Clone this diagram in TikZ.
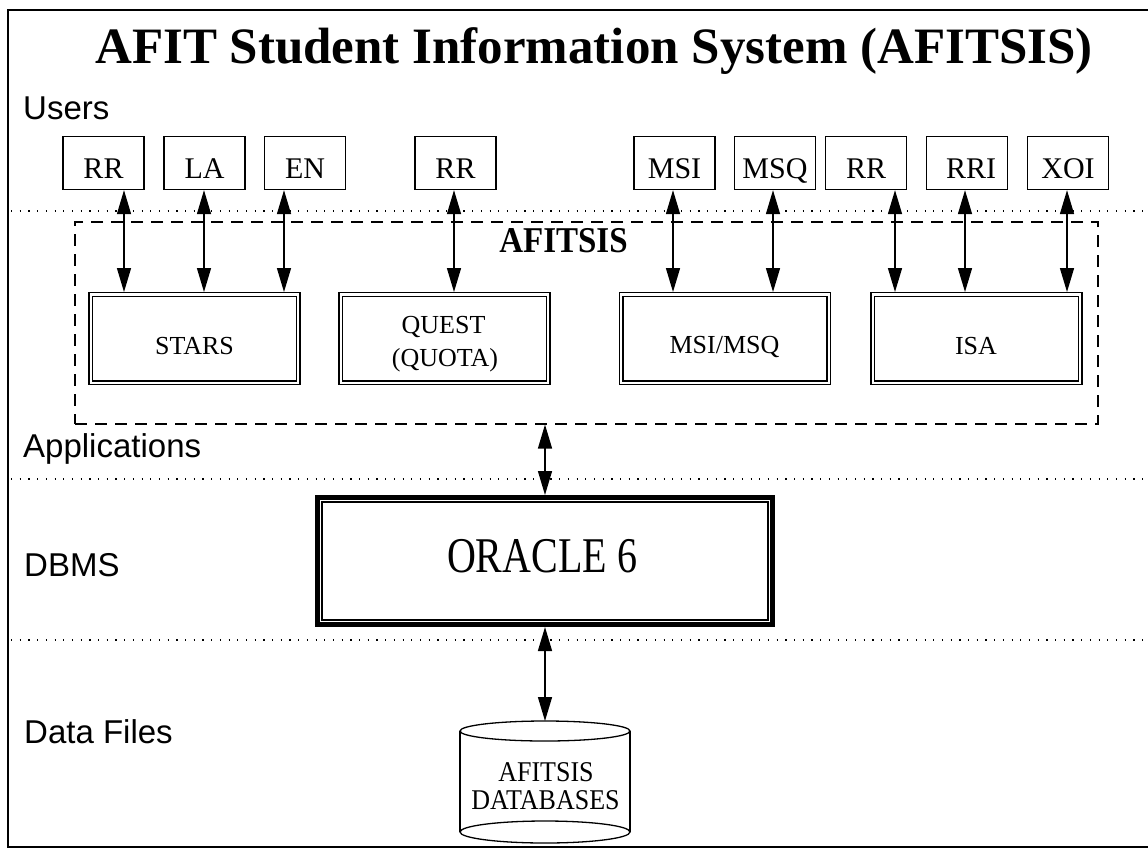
\documentclass[tikz,border=0pt]{standalone}
\usepackage{fontspec}
\usepackage{graphicx}
\setmainfont{Liberation Serif}
\newfontfamily\labelfont{Liberation Sans}
\usetikzlibrary{arrows.meta}
\begin{document}
\begin{tikzpicture}[x=1pt,y=-1pt,
  ubox/.style={draw, line width=1.3pt, minimum width=81pt, minimum height=53pt,
    inner sep=0pt, text height=31pt, text depth=0pt, font=\fontsize{30}{30}\selectfont},
  abox/.style={draw, line width=1.1pt, double, double distance=2.4pt,
    minimum width=207.5pt, minimum height=88.4pt, inner sep=0pt, outer sep=2.3pt},
  atext/.style={anchor=base, inner sep=0pt, font=\fontsize{26}{26}\selectfont},
  arr/.style={line width=1.4pt, arrows={Triangle[length=24pt,width=14pt]-Triangle[length=24pt,width=14pt]}},
  lbl/.style={anchor=base west, inner sep=0pt, font=\labelfont\fontsize{33}{33}\selectfont},
  dotline/.style={line width=1.2pt, dash pattern=on 1.2pt off 7.5pt},
  dashline/.style={line width=1.1pt, dash pattern=on 12pt off 8pt}]

\useasboundingbox (0,0) rectangle (1148,852);

% frame
\draw[line width=2.6pt] (1152,10) -- (8,10) -- (8,847) -- (1152,847);

% title
\node[anchor=base, inner sep=0pt, font=\bfseries\fontsize{51}{51}\selectfont] (title) at (594,63)
  {AFIT Student Information System (AFITSIS)};

% layer labels
\node[lbl] (lusers) at (23,119) {Users};
\node[lbl] (lapps) at (23,457) {Applications};
\node[lbl] (ldbms) at (24,576) {DBMS};
\node[lbl] (ldata) at (24,743) {Data Files};

% dotted layer separators
\draw[dotline] (11,211) -- (1148,211);
\draw[dotline] (11,479) -- (1148,479);
\draw[dotline] (11,640) -- (1148,640);

% AFITSIS dashed frame
\node[draw, dashline, minimum width=1023pt, minimum height=202pt, inner sep=0pt] (sys) at (586.5,323) {};
\node[anchor=base, inner sep=0pt, font=\bfseries\fontsize{33}{33}\selectfont] (systitle) at (563.5,252)
  {\scalebox{1}[1.1]{AFITSIS}};

% user boxes
\node[ubox] (u1) at (103.5,163) {RR};
\node[ubox] (u2) at (204.5,163) {LA};
\node[ubox] (u3) at (305,163) {EN};
\node[ubox] (u4) at (455.5,163) {RR};
\node[ubox] (u5) at (674.5,163) {MSI};
\node[ubox] (u6) at (775,163) {MSQ};
\node[ubox] (u7) at (866,163) {RR};
\node[ubox] (u8) at (967,163) {\hspace*{8pt}RRI};
\node[ubox] (u9) at (1068,163) {XOI};

% application boxes
\node[abox] (stars) at (194.5,338.5) {};
\node[abox] (quest) at (444.5,338.5) {};
\node[abox] (msimsq) at (725,338.5) {};
\node[abox] (isa) at (976.5,338.5) {};
\node[atext] (tstars) at (194.5,354.5) {STARS};
\node[atext] (tquest1) at (443.5,333.5) {QUEST};
\node[atext] (tquest2) at (445,366.5) {(QUOTA)};
\node[atext] (tmsimsq) at (724.5,353.5) {MSI/MSQ};
\node[atext] (tisa) at (976,354) {ISA};

% arrow columns
\coordinate (c1) at (124,0);
\coordinate (c2) at (204,0);
\coordinate (c3) at (284,0);
\coordinate (c4) at (454,0);
\coordinate (c5) at (673,0);
\coordinate (c6) at (773,0);
\coordinate (c7) at (895,0);
\coordinate (c8) at (965,0);
\coordinate (c9) at (1067,0);

\draw[arr] (u1.south -| c1) -- (stars.north -| c1);
\draw[arr] (u2.south -| c2) -- (stars.north -| c2);
\draw[arr] (u3.south -| c3) -- (stars.north -| c3);
\draw[arr] (u4.south -| c4) -- (quest.north -| c4);
\draw[arr] (u5.south -| c5) -- (msimsq.north -| c5);
\draw[arr] (u6.south -| c6) -- (msimsq.north -| c6);
\draw[arr] (u7.south -| c7) -- (isa.north -| c7);
\draw[arr] (u8.south -| c8) -- (isa.north -| c8);
\draw[arr] (u9.south -| c9) -- (isa.north -| c9);

% ORACLE box
\node[draw, line width=5pt, minimum width=455pt, minimum height=127pt, inner sep=0pt, outer sep=2.5pt] (oracle) at (545,561) {};
\draw[line width=1.2pt] ([shift={(7,7)}]oracle.north west) rectangle ([shift={(-7,-7)}]oracle.south east);
\node[anchor=base, inner sep=0pt, font=\fontsize{40}{40}\selectfont] (toracle) at (542,572)
  {\scalebox{1}[1.25]{ORACLE 6}};

% database cylinder
\node[minimum width=170pt, minimum height=122pt, inner sep=0pt, outer sep=0pt] (db) at (545,782) {};
\draw[line width=1.3pt] (460,731) -- (460,832);
\draw[line width=1.3pt] (630,731) -- (630,832);
\draw[line width=1.3pt, fill=white] (545,832) ellipse [x radius=85, y radius=11];
\draw[line width=1.3pt, fill=white] (545,731) ellipse [x radius=85, y radius=10];
\node[anchor=base, inner sep=0pt, font=\fontsize{26}{26}\selectfont] (tdb1) at (546,781) {\scalebox{1}[1.1]{AFITSIS}};
\node[anchor=base, inner sep=0pt, font=\fontsize{26}{26}\selectfont] (tdb2) at (545.5,809) {\scalebox{1}[1.1]{DATABASES}};

% vertical connectors
\draw[arr] (sys.south -| oracle.north) -- (oracle.north);
\draw[arr] (oracle.south) -- (db.north);

\end{tikzpicture}
\end{document}
